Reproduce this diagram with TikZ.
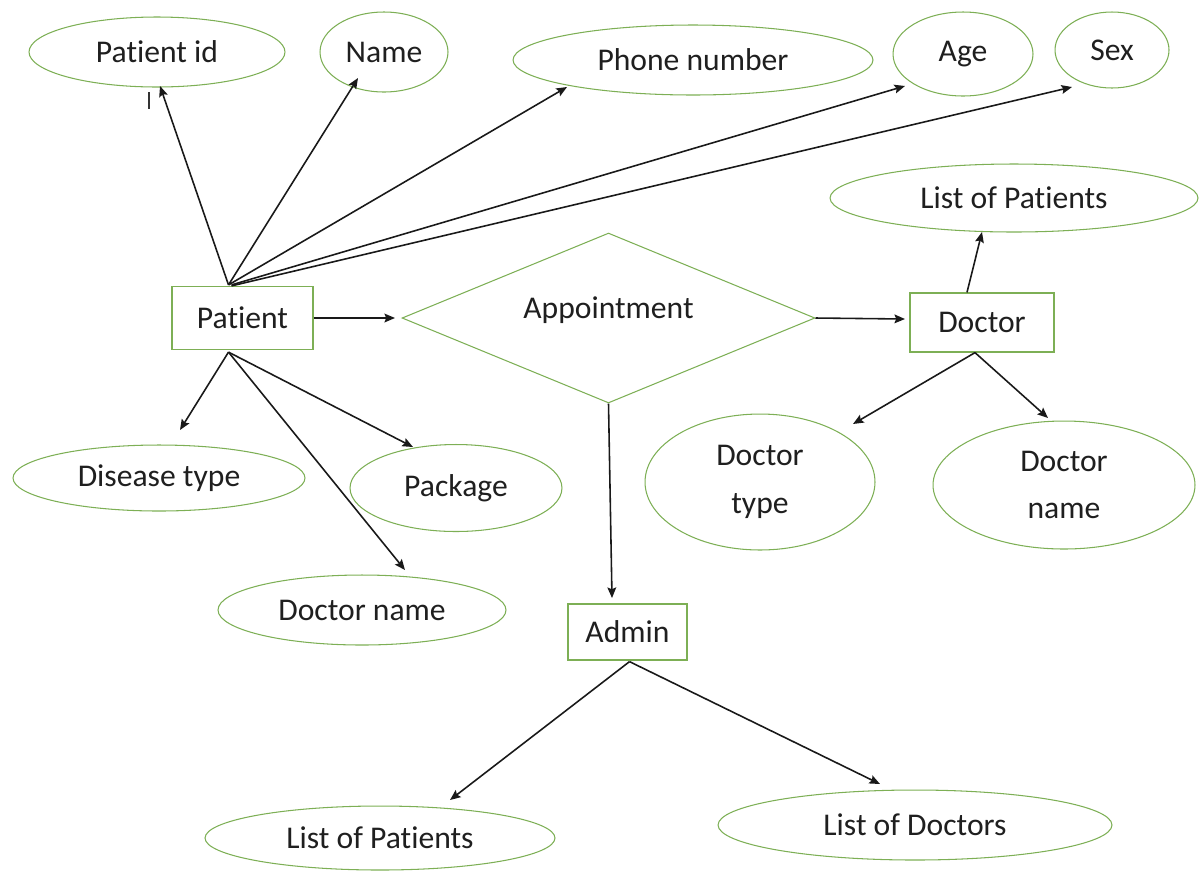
\documentclass[tikz,border=0pt]{standalone}
\usepackage{fontspec}
\setmainfont{Carlito}[RawFeature={-liga;-clig;-calt;-dlig}]
\usetikzlibrary{shapes.geometric,arrows.meta,calc}
\definecolor{attrgreen}{RGB}{125,175,85}
\tikzset{
  x=0.02cm, y=-0.02cm,
  every node/.style={font=\fontsize{18}{22}\selectfont, text=black!88},
  attr/.style={ellipse, draw=attrgreen, line width=0.6pt, inner sep=0pt, align=center},
  ent/.style={rectangle, draw=attrgreen, line width=0.7pt, inner sep=0pt},
  rel/.style={diamond, draw=attrgreen, line width=0.6pt, inner sep=0pt, aspect=2.4},
  conn/.style={draw=black!90, line width=0.9pt, -{Stealth[length=6pt,width=5pt,inset=1pt]}}
}
\begin{document}
\begin{tikzpicture}
\useasboundingbox (0,0) rectangle (1202,870);
% attributes
\node[attr, minimum width=5.12cm, minimum height=1.40cm] (pid) at (157,52) {Patient id};
\node[attr, minimum width=2.56cm, minimum height=1.60cm] (pname) at (384,52) {Name};
\node[attr, minimum width=7.20cm, minimum height=1.40cm] (phone) at (693,60) {Phone number};
\node[attr, minimum width=2.80cm, minimum height=1.68cm] (age) at (963,54) {Age};
\node[attr, minimum width=2.28cm, minimum height=1.52cm] (sex) at (1112,50) {Sex};
\node[attr, minimum width=7.36cm, minimum height=1.36cm] (lopd) at (1014,198) {List of Patients};
\node[attr, minimum width=5.84cm, minimum height=1.32cm] (dis) at (159,478) {Disease type};
\node[attr, minimum width=4.24cm, minimum height=1.74cm] (pack) at (456,488) {Package};
\node[attr, minimum width=5.76cm, minimum height=1.40cm] (dnamep) at (362,610) {Doctor name};
\node[attr, minimum width=4.60cm, minimum height=2.72cm] (dtype) at (760,482) {Doctor\\[5pt]type};
\node[attr, minimum width=5.24cm, minimum height=2.56cm] (dnamed) at (1064,485) {Doctor\\[5pt]name};
\node[attr, minimum width=7.00cm, minimum height=1.28cm] (lopa) at (380,838) {List of Patients};
\node[attr, minimum width=7.88cm, minimum height=1.40cm] (lod) at (915,825) {List of Doctors};
% entities and relation
\node[ent, minimum width=2.82cm, minimum height=1.26cm] (patient) at (242.5,318) {Patient};
\node[ent, minimum width=2.88cm, minimum height=1.18cm] (doctor) at (982,322.5) {Doctor};
\node[ent, minimum width=2.38cm, minimum height=1.12cm] (admin) at (627.5,632) {Admin};
\node[rel, minimum width=8.26cm, minimum height=3.40cm] (appt) at (608.5,318) {\raisebox{12pt}{Appointment}};
% stray cursor mark
\draw[line width=0.8pt, black!80] (149,92) -- (149,109);
% connector end points
\coordinate (pT) at ($(patient.north)+(-14,-1)$);
\coordinate (pB) at ($(patient.south)+(-14,2)$);
\coordinate (dT) at ($(doctor.north)+(-15,0)$);
\coordinate (dB) at ($(doctor.south)+(-7,0)$);
\coordinate (aB) at ($(admin.south)+(2,1)$);
\coordinate (tPid) at (160,86);
\coordinate (tName) at (358,78);
\coordinate (tPhone) at (567,87);
\coordinate (tAge) at (905,86);
\coordinate (tSex) at (1072,87);
\coordinate (tLopd) at (982,232);
\coordinate (tDtype) at (853,424);
\coordinate (tDnamed) at (1048,418);
\coordinate (tDis) at (180,430);
\coordinate (tPack) at (413,447);
\coordinate (tDnamep) at (405,570);
\coordinate (tLopa) at (450,800);
\coordinate (tLod) at (880,784);
\coordinate (tAdmin) at (612,598);
\coordinate (tAppt) at (395,318);
\coordinate (tDoctor) at (905,319);
% connectors
\draw[conn] (pT) -- (tPid);
\draw[conn] (pT) -- (tName);
\draw[conn] (pT) -- (tPhone);
\draw[conn] ($(pT)+(3,0)$) -- (tAge);
\draw[conn] ($(pT)+(3,1)$) -- (tSex);
\draw[conn] (patient.east) -- (tAppt);
\draw[conn] (appt.east) -- (tDoctor);
\draw[conn] (dT) -- (tLopd);
\draw[conn] (dB) -- (tDtype);
\draw[conn] (dB) -- (tDnamed);
\draw[conn] (pB) -- (tDis);
\draw[conn] (pB) -- (tPack);
\draw[conn] (pB) -- (tDnamep);
\draw[conn] (appt.south) -- (tAdmin);
\draw[conn] (aB) -- (tLopa);
\draw[conn] (aB) -- (tLod);
\end{tikzpicture}
\end{document}
